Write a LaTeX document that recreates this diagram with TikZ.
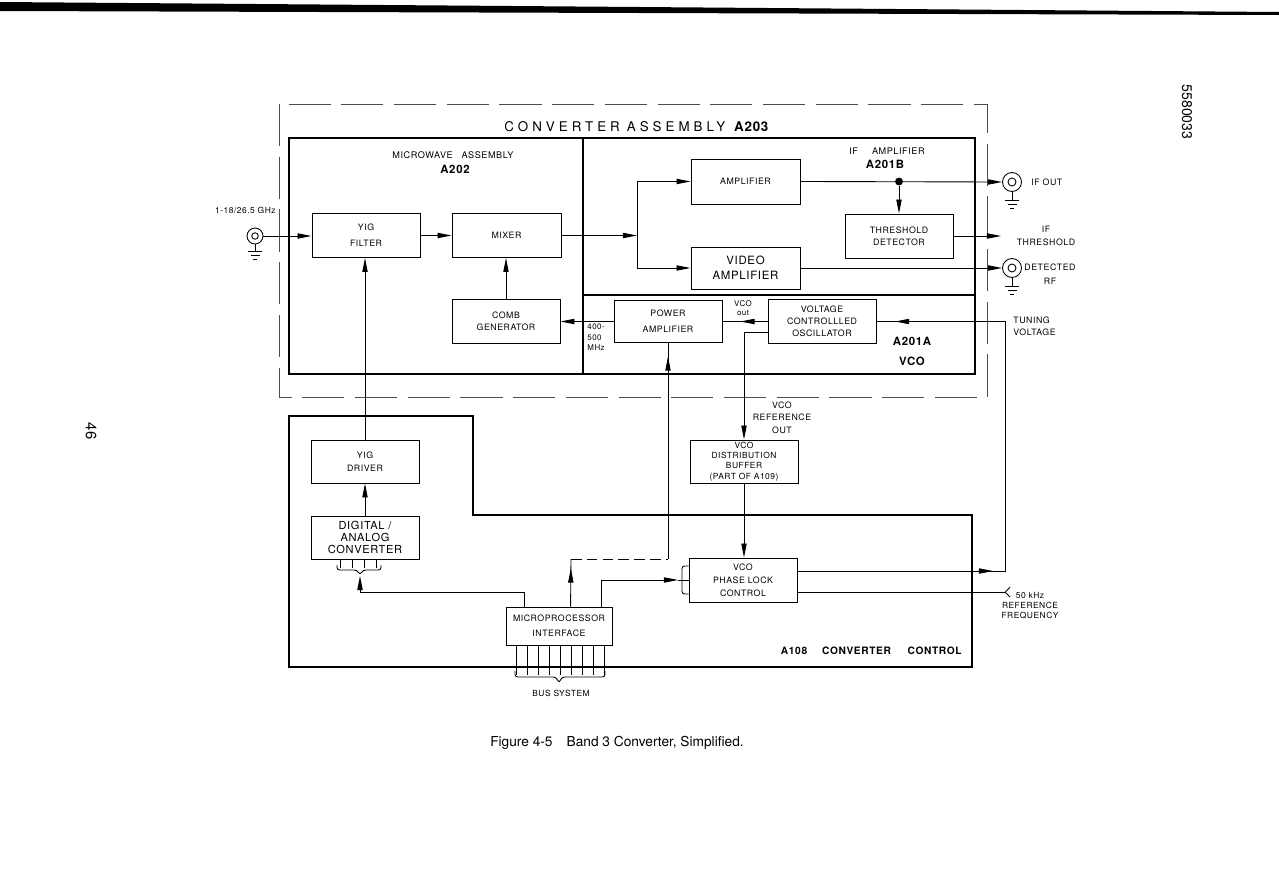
\documentclass[tikz,border=0pt]{standalone}
\usepackage{fontspec}
\setmainfont{TeX Gyre Heros}
\newfontfamily\lsfont[LetterSpace=6]{TeX Gyre Heros}
\newfontfamily\ttlfont[LetterSpace=30]{TeX Gyre Heros}
\usetikzlibrary{arrows.meta,decorations.markings,calc}
\newcommand\fs[2]{\lsfont\fontsize{#1}{#2}\selectfont}
\newcommand\fb[1]{\lsfont\bfseries\fontsize{#1}{#1}\selectfont}
\newcommand\gndat[1]{\draw (#1) ++(-7,0) -- ++(14,0) (#1) ++(-4.5,4) -- ++(9,0) (#1) ++(-2,8) -- ++(4,0);}
\begin{document}
\begin{tikzpicture}[x=0.02cm,y=-0.02cm,line width=0.5pt,
  blk/.style={draw,inner sep=0pt,minimum width=2.16cm,minimum height=0.88cm,align=center},
  arr/.style={-{Triangle[length=8pt,width=3pt]}},
  midtip/.style={postaction={decorate},decoration={markings,mark=at position #1 with {\arrow{Triangle[length=8pt,width=3pt]}}}},
  heavy/.style={line width=1.4pt},
  brk/.style={dash pattern=on 24pt off 6pt,draw=black!70},
  brktwo/.style={dash pattern=on 6pt off 3pt},
  lbl/.style={inner sep=0pt,align=center},
  coax/.style={circle,draw,inner sep=0pt,minimum size=#1}]
\fill[white] (0,0) rectangle (1279,896);
\useasboundingbox (0,0) rectangle (1279,896);
% top scan bar
\fill (0,2) -- (1279,12) -- (1279,15) -- (0,11) -- cycle;

% outer dashed assembly and heavy outlines
\draw[brk] (279,104) rectangle (987,397);
\draw[heavy] (289,138) rectangle (975,374);
\draw[heavy] (583,138) -- (583,374);
\draw[heavy] (583,295) -- (975,295);
\draw[heavy] (289,416) -- (473,416) -- (473,515) -- (972,515) -- (972,667) -- (289,667) -- cycle;

% blocks
\node[blk,font=\fs{5}{9}] (yigf) at (366,235.5) {YIG\\FILTER};
\node[blk,minimum width=2.18cm,font=\fs{5}{6}] (mixer) at (506.5,235.5) {MIXER};
\node[blk,font=\fs{5}{6.5}] (comb) at (506,321.5) {COMB\\GENERATOR};
\node[blk,minimum height=0.84cm,font=\fs{5}{9}] (pa) at (668,321.5) {POWER\\AMPLIFIER};
\node[blk,font=\fs{5}{6.8}] (vco) at (822,321.5) {VOLTAGE\\CONTROLLLED\\OSCILLATOR};
\node[blk,minimum width=2.18cm,minimum height=0.9cm,font=\fs{5}{6}] (amp) at (745.5,181.5) {AMPLIFIER};
\node[blk,minimum width=2.18cm,minimum height=0.84cm,font=\fs{6.5}{8.5}] (vamp) at (745.5,268) {VIDEO\\AMPLIFIER};
\node[blk,font=\fs{5}{6.8}] (thr) at (899,236) {THRESHOLD\\DETECTOR};
\node[blk,minimum height=0.86cm,font=\fs{4.8}{5.9}] (buf) at (744,461.5) {VCO\\DISTRIBUTION\\BUFFER\\(PART OF A109)};
\node[blk,font=\fs{5}{7.5}] (plc) at (743,580) {VCO\\PHASE LOCK\\CONTROL};
\node[blk,minimum height=0.86cm,font=\fs{5}{7.4}] (yigd) at (365,461.5) {YIG\\DRIVER};
\node[blk,minimum height=0.86cm,font=\fs{6.3}{6.6}] (dac) at (365,537.5) {DIGITAL /\\ANALOG\\CONVERTER};
\node[blk,minimum width=2.12cm,minimum height=0.76cm,font=\fs{5}{8.5}] (mpi) at (559,626) {MICROPROCESSOR\\INTERFACE};

% coax connectors
\node[coax=0.32cm] (cin) at (255,236) {};
\node[coax=0.13cm] (cinI) at (cin.center) {};
\draw (cin.south) -- ++(0,7) coordinate (cinG);
\gndat{cinG}
\node[coax=0.38cm] (ifo) at (1012,182) {};
\node[coax=0.16cm] (ifoI) at (ifo.center) {};
\draw (ifo.south) -- ++(0,8) coordinate (ifoG);
\gndat{ifoG}
\node[coax=0.38cm] (det) at (1012,268) {};
\node[coax=0.16cm] (detI) at (det.center) {};
\draw (det.south) -- ++(0,8) coordinate (detG);
\gndat{detG}

% signal path
\draw[arr] (cin.east) -- (yigf.west |- cin.east);
\draw[arr] (yigf.east) -- (mixer.west);
\coordinate (jn) at (637,235.5);
\draw[arr] (mixer.east) -- (jn);
\draw (jn |- amp.west) -- (jn |- vamp.west);
\draw[arr] (jn |- amp.west) -- (amp.west);
\draw[arr] (jn |- vamp.west) -- (vamp.west);
\draw[arr] (amp.east) -- (ifo.west);
\node[circle,fill,inner sep=0pt,minimum size=4.5pt] (dot) at (thr.north |- amp.east) {};
\draw[arr] (dot) -- (thr.north);
\coordinate (thrO) at (1001,236);
\draw[arr] (thr.east) -- (thrO);
\draw[arr] (vamp.east) -- (det.west);

% VCO section
\draw[midtip=0.6] (vco.west) -- (pa.east);
\draw[arr] (pa.west) -- (comb.east);
\draw[arr] (comb.north) -- (comb.north |- mixer.south);
\coordinate (refA) at ($(vco.south west)!0.25!(vco.north west)$);
\draw[arr] (refA) -- (refA -| buf.north) -- (buf.north);
\draw[arr] (buf.south) -- (buf.south |- plc.north);

% tuning voltage loop and reference
\coordinate (tvX) at (1005,0);
\coordinate (plcT) at ($(plc.north east)!0.3!(plc.south east)$);
\coordinate (plcR) at ($(plc.north east)!0.77!(plc.south east)$);
\draw[postaction={decorate},decoration={markings,
   mark=at position 0.334 with {\arrow{Triangle[length=8pt,width=3pt]}},
   mark=at position 0.968 with {\arrow{Triangle[length=8pt,width=3pt]}}}]
   (plcT) -- (plcT -| tvX) -- (vco.east -| tvX) -- (vco.east);
\coordinate (fref) at (plcR -| tvX);
\draw (plcR) -- (fref);
\draw (fref) ++(5,-5) -- (fref) -- ++(5,5);

% YIG drive chain
\draw[arr] (yigd.north) -- (yigd.north |- yigf.south);
\draw[arr] (dac.north) -- (yigd.south);
\foreach \x in {340,352,364,376} \draw (\x,559) -- (\x,568);
\draw[rounded corners=1.5pt] (337,565) -- (337,570) -- (357,570) -- (360,575) -- (363,570) -- (381,570) -- (381,565);
\coordinate (dacTip) at (360,576);
\coordinate (dacL) at (360,592);
\coordinate (mA) at ($(mpi.north west)+(19,0)$);
\draw[arr] (mA) |- (dacL) -- (dacTip);

% microprocessor to power amp
\coordinate (mB) at ($(mpi.north west)+(65,0)$);
\coordinate (mBt) at (571,559);
\coordinate (paC) at (pa.south |- mBt);
\draw[midtip=0.8] (mB) -- (mBt);
\draw[brktwo] (mBt) -- (paC);
\draw[midtip=0.937] (paC) -- (pa.south);

% microprocessor to phase lock control
\coordinate (mC) at ($(mpi.north west)+(96,0)$);
\coordinate (plcL) at (678,580);
\draw[arr] (mC) |- (plcL);
\draw[rounded corners=1.5pt] (plc.west |- 0,566) -- (682,566) -- (682,594) -- (plc.west |- 0,594);
\draw (plcL) -- (plc.west);

% bus system
\foreach \i in {0,...,8} {\pgfmathsetmacro\xx{516+11*\i} \draw (\xx,645) -- (\xx,675);}
\draw[rounded corners=1.5pt] (515,671) -- (515,677) -- (556,677) -- (559,683) -- (562,677) -- (605,677) -- (605,671);

% labels
\node[lbl,anchor=west,font=\ttlfont\fontsize{7.6}{9}\selectfont] (ttl) at (504,127) {CONVERTER\hspace{4pt}ASSEMBLY\hspace{5pt}{\lsfont\bfseries A203}};
\node[lbl,font=\fs{5.2}{6}] (mwt) at (453,155) {MICROWAVE\hspace{5pt}ASSEMBLY};
\node[lbl,font=\fb{6.5}] (mwa) at (455,169) {A202};
\node[lbl,font=\fs{5.2}{6}] (ift) at (887,151) {IF\hspace{8pt}AMPLIFIER};
\node[lbl,font=\fb{6.5}] (ifa) at (885,164) {A201B};
\node[lbl,font=\fb{6.5}] (vcoa) at (912,341) {A201A};
\node[lbl,font=\fb{6.5}] (vcob) at (912,361) {VCO};
\node[lbl,anchor=east,font=\fs{4.8}{5}] (inlbl) at (276,210) {1-18/26.5 GHz};
\node[lbl,anchor=west,font=\fs{5}{6}] (ifol) at (1031,182) {IF OUT};
\node[lbl,font=\fs{5}{7.4}] (thrl) at (1046,235.5) {IF\\THRESHOLD};
\node[lbl,font=\fs{5}{8}] (detl) at (1050,274) {DETECTED\\RF};
\node[lbl,anchor=west,align=left,font=\fs{5}{6.8}] (tunl) at (1013,326) {TUNING\\VOLTAGE};
\node[lbl,font=\fs{4.5}{5.2}] (vcool) at (743,308.5) {VCO\\out};
\node[lbl,anchor=west,align=left,font=\fs{4.5}{6}] (mhzl) at (587,337.5) {400-\\500\\MHz};
\node[lbl,font=\fs{5}{7}] (refl) at (782,417.5) {VCO\\REFERENCE\\OUT};
\node[lbl,font=\fs{4.8}{5.7}] (frql) at (1030,606) {50 kHz\\REFERENCE\\FREQUENCY};
\node[lbl,font=\fs{4.8}{5}] (busl) at (561,693) {BUS SYSTEM};
\node[lbl,anchor=east,font=\fb{5.8}] (a108) at (962,651) {A108\hspace{8.5pt}CONVERTER\hspace{9.5pt}CONTROL};
\node[lbl,font=\fontsize{7.8}{9}\selectfont] (cap) at (617,743) {Figure 4-5\hspace{8pt}Band 3 Converter, Simplified.};
\node[lbl,rotate=-90,font=\fontsize{8}{9}\selectfont] (docno) at (1187,112) {5580033};
\node[lbl,rotate=-90,font=\fontsize{8.5}{9}\selectfont] (pgno) at (91,431) {46};
\end{tikzpicture}
\end{document}
